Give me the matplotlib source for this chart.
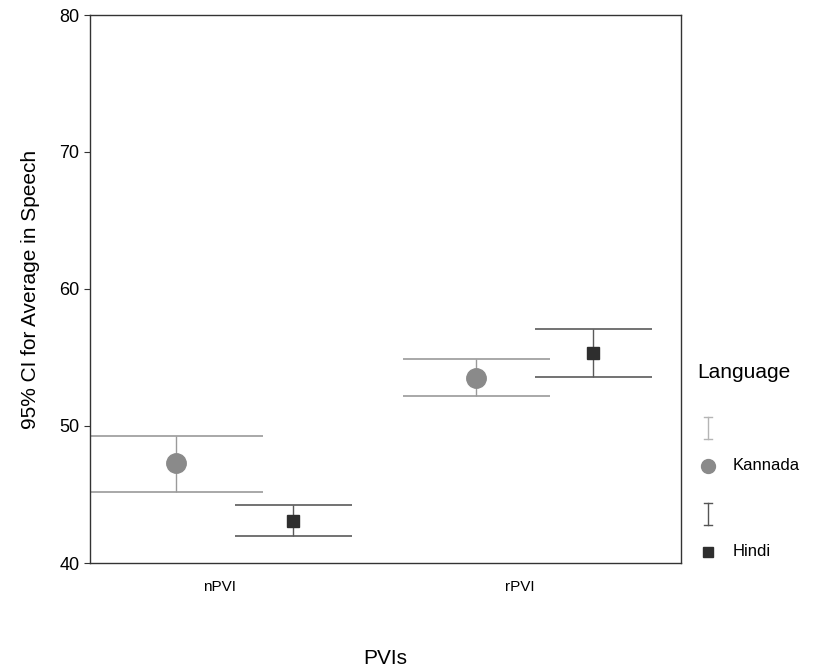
import matplotlib
matplotlib.use("Agg")
import matplotlib.pyplot as plt
from matplotlib.lines import Line2D
import numpy as np

plt.rcParams['font.family'] = ['Liberation Sans', 'DejaVu Sans']

categories = ["nPVI", "rPVI"]
languages = ["Kannada", "Hindi"]
kannada_mean = [47.3, 53.5]
kannada_low = [45.2, 52.2]
kannada_high = [49.3, 54.9]
hindi_mean = [43.1, 55.3]
hindi_low = [42.0, 53.6]
hindi_high = [44.2, 57.1]

W, H = 823, 667
fig = plt.figure(figsize=(W/100, H/100), dpi=100)
ax = fig.add_axes([90/W, 1-563/H, (681-90)/W, (563-15)/H])

x = np.arange(len(categories))
offsets = {"Kannada": -0.145, "Hindi": 0.245}
capw = {"Kannada": [0.29, 0.245], "Hindi": [0.195, 0.195]}
styles = {
    "Kannada": dict(marker='o', ms=14, mfc='#8a8a8a', mec='#8a8a8a', bar='#9a9a9a', legbar='#b5b5b5', lms=10),
    "Hindi": dict(marker='s', ms=9, mfc='#2e2e2e', mec='#2e2e2e', bar='#5a5a5a', legbar='#555555', lms=7),
}
data = {
    "Kannada": (kannada_mean, kannada_low, kannada_high),
    "Hindi": (hindi_mean, hindi_low, hindi_high),
}

for lang in languages:
    m, lo, hi = (np.array(v) for v in data[lang])
    st = styles[lang]
    xs = x + offsets[lang]
    ax.vlines(xs, lo, hi, color=st['bar'], lw=1.0, zorder=2)
    for xi, l, h, w in zip(xs, lo, hi, capw[lang]):
        ax.hlines([l, h], xi - w, xi + w, color=st['bar'], lw=1.2, zorder=2)
    ax.plot(xs, m, linestyle='none', marker=st['marker'], ms=st['ms'],
            mfc=st['mfc'], mec=st['mec'], zorder=3)

ax.set_ylim(40, 80)
ax.set_xlim(-0.433, 1.537)
ax.set_yticks([40, 50, 60, 70, 80])
ax.set_xticks(x)
ax.set_xticklabels(categories, fontsize=11)
ax.tick_params(axis='y', labelsize=13, length=4, color='#333333')
ax.tick_params(axis='x', length=0, pad=12)
for s in ax.spines.values():
    s.set_color('#333333')
    s.set_linewidth(1.0)
ax.set_ylabel("95% CI for Average in Speech", fontsize=15, labelpad=14)
ax.set_xlabel("PVIs", fontsize=15, labelpad=40)

# legend (drawn manually in figure pixel coordinates)
def fx(px):
    return px / W

def fy(py):
    return 1 - py / H

fig.text(fx(697), fy(372), "Language", fontsize=15, va='center', ha='left')
leg_rows = {"Kannada": (428, 466), "Hindi": (514, 552)}
for lang in languages:
    st = styles[lang]
    ybar, ymark = leg_rows[lang]
    cx = 708
    fig.add_artist(Line2D([fx(cx), fx(cx)], [fy(ybar - 11), fy(ybar + 11)],
                          color=st['legbar'], lw=1.0))
    for yy in (ybar - 11, ybar + 11):
        fig.add_artist(Line2D([fx(cx - 4), fx(cx + 4)], [fy(yy), fy(yy)],
                              color=st['legbar'], lw=1.0))
    fig.add_artist(Line2D([fx(cx)], [fy(ymark)], linestyle='none', marker=st['marker'],
                          ms=st['lms'], mfc=st['mfc'], mec=st['mec']))
    fig.text(fx(733), fy(ymark), lang, fontsize=12, va='center', ha='left')

fig.savefig("out.png", dpi=100)
